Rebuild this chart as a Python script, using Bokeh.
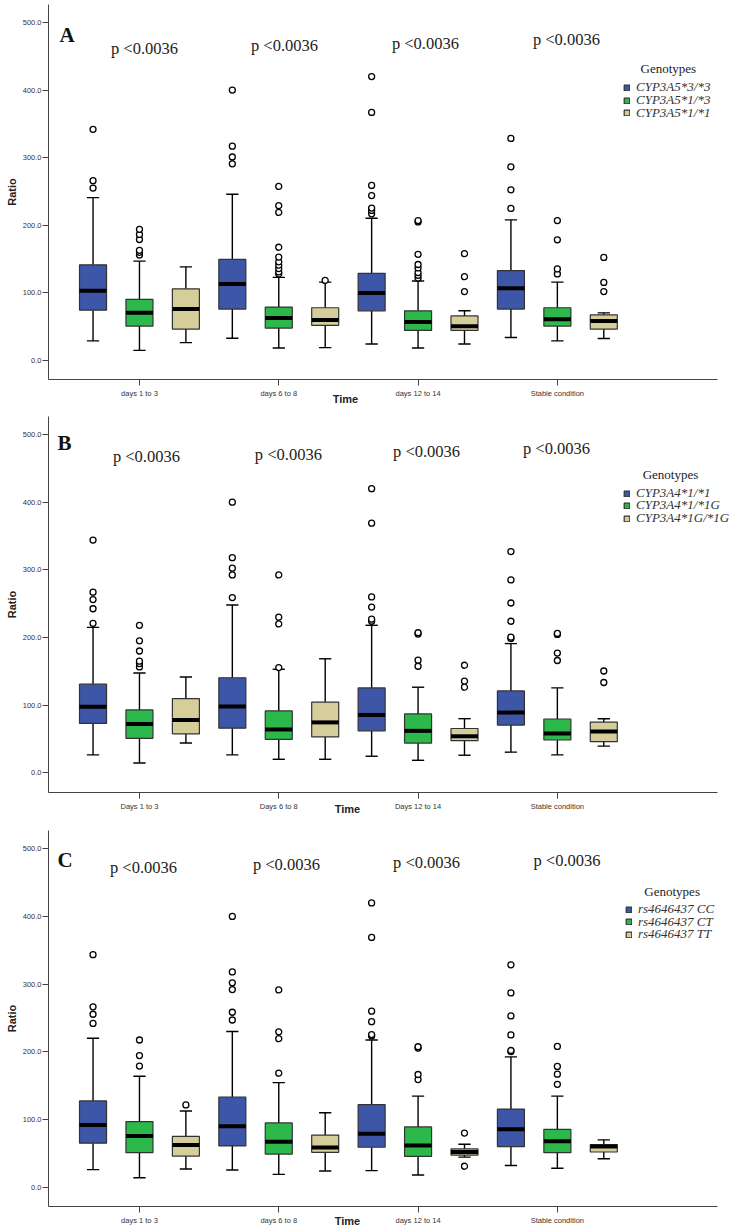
from bokeh.plotting import figure
from bokeh.models import (ColumnDataSource, FixedTicker, Legend, LegendItem, Label,
                          PrintfTickFormatter, Range1d, LinearAxis)
from bokeh.layouts import column
from bokeh.embed import file_html
from bokeh.resources import INLINE

# ---------------- data ----------------
times_A = ["days 1 to 3", "days 6 to 8", "days 12 to 14", "Stable condition"]
times_B = ["Days 1 to 3", "Days 6 to 8", "Days 12 to 14", "Stable condition"]
times_C = ["days 1 to 3", "days 6 to 8", "days 12 to 14", "Stable condition"]

genotypes_A = ["CYP3A5*3/*3", "CYP3A5*1/*3", "CYP3A5*1/*1"]
genotypes_B = ["CYP3A4*1/*1", "CYP3A4*1/*1G", "CYP3A4*1G/*1G"]
genotypes_C = ["rs4646437 CC", "rs4646437 CT", "rs4646437 TT"]

p_labels = ["p <0.0036", "p <0.0036", "p <0.0036", "p <0.0036"]

# rows = genotype, columns = time point
A_low = [[29, 33, 24.5, 34], [15, 18.5, 18.5, 29], [26.5, 19, 24.5, 32.5]]
A_q1 = [[74.5, 76, 73.5, 76], [51, 48, 44.5, 51], [46.5, 52, 44.5, 46.5]]
A_med = [[103, 113, 100, 107], [70.5, 63, 57, 61], [76, 60, 50.5, 58.5]]
A_q3 = [[141.5, 149.5, 129, 133], [90.5, 79, 73.5, 78], [106, 78, 66, 67.5]]
A_high = [[241, 246, 210.5, 208], [147, 123, 117.5, 116], [138.5, 116, 73.5, 70.5]]
A_out = [
    [[342, 266, 255], [291, 301, 317, 400], [217, 222, 225.5, 244, 259, 367, 420], [225, 252.5, 286.5, 328.5]],
    [[156, 160, 163, 179, 186.5, 194], [128, 131, 136, 141, 146, 153, 167.5, 219, 229, 257.5],
     [122, 126, 130, 137, 142, 157, 205, 207], [128, 135.5, 178.5, 207]],
    [[], [118.5], [102, 124, 158], [102, 115.5, 152.5]],
]

B_low = [[26.5, 26.5, 24.5, 30.5], [14.5, 20, 18.5, 26.5], [44, 20, 26, 39.5]]
B_q1 = [[73, 66, 62, 70.5], [51, 49.5, 44, 48.5], [57.5, 53, 47.5, 46]]
B_med = [[97.5, 98, 85.5, 89], [72, 64, 62, 58], [78, 74.5, 54, 61]]
B_q3 = [[131, 140.5, 125.5, 121], [93, 91.5, 87, 79.5], [109.5, 104.5, 65.5, 75]]
B_high = [[215, 248, 218, 191], [147.5, 153, 126.5, 125.5], [141.5, 168.5, 80, 80]]
B_out = [
    [[221, 242.5, 256, 267, 344], [259, 292.5, 302.5, 318, 400], [224, 227, 245, 260, 369, 420],
     [198.5, 200.5, 224, 251, 285, 327]],
    [[156.5, 161.5, 165, 180, 195, 218], [155.5, 220, 230, 292.5], [157.5, 166.5, 205, 207],
     [166, 177, 204.5, 206]],
    [[], [], [126.5, 135.5, 159], [133.5, 150.5]],
]

C_low = [[26, 25.5, 24.5, 32], [14, 19, 18, 28], [27, 24, 44.5, 42]]
C_q1 = [[65, 61, 59, 60], [51, 49, 45.5, 51], [46, 51.5, 47.5, 52]]
C_med = [[92, 90, 79, 85.5], [75.5, 67, 61.5, 68], [62.5, 58.5, 52, 60]]
C_q3 = [[127.5, 133, 122, 115.5], [97, 95, 89, 85.5], [75, 77, 56.5, 63]]
C_high = [[220, 230, 217.5, 192.5], [164, 154.5, 134.5, 134.5], [112.5, 110, 63.5, 70]]
C_out = [
    [[242, 255.5, 266.5, 343.5], [247, 258.5, 292, 302, 318, 400], [223.5, 225.5, 244.5, 260, 369, 420],
     [200.5, 202, 225, 253, 287, 328.5]],
    [[179, 194.5, 217.5], [168.5, 219.5, 229.5, 291.5], [159, 166.5, 205.5, 207.5], [152, 167, 178.5, 208]],
    [[121.5], [], [31, 80], []],
]

# ---------------- styling ----------------
COLORS = ["#3D56A7", "#2DB84B", "#D5CE9B"]
OFFSETS = [-1/3, 0.0, 1/3]
BOX_W = 0.194
CAP_HALF = 0.044
SERIF = "Liberation Serif"
SANS = "Liberation Sans"
X_START, X_END = -0.653, 4.286
AXIS_END = 4.149


def build_panel(letter, times, genos, low, q1, med, q3, high, outs,
                height, top, bottom, y_range, letter_pos, p_pos, geno_pos, time_x, time_standoff,
                legend_x, legend_ys):
    p = figure(width=738, height=height, output_backend="svg", toolbar_location=None,
               x_range=Range1d(X_START, X_END), y_range=Range1d(*y_range),
               min_border_left=48, min_border_right=2, min_border_top=top,
               min_border_bottom=bottom)
    p.outline_line_color = None
    p.grid.grid_line_color = None
    p.background_fill_color = "white"

    for g in range(3):
        xs = [t + OFFSETS[g] for t in range(4)]
        src = ColumnDataSource(dict(
            x=xs, xl=[x - CAP_HALF for x in xs], xr=[x + CAP_HALF for x in xs],
            bl=[x - BOX_W / 2 for x in xs], br=[x + BOX_W / 2 for x in xs],
            low=low[g], q1=q1[g], med=med[g], q3=q3[g], high=high[g]))
        p.segment("x", "low", "x", "q1", source=src, line_color="black", line_width=1.4)
        p.segment("x", "q3", "x", "high", source=src, line_color="black", line_width=1.4)
        p.segment("xl", "low", "xr", "low", source=src, line_color="black", line_width=1.4)
        p.segment("xl", "high", "xr", "high", source=src, line_color="black", line_width=1.4)
        box = p.vbar(x="x", width=BOX_W, bottom="q1", top="q3", source=src,
                     fill_color=COLORS[g], line_color="#333333", line_width=1.2)
        p.segment("bl", "med", "br", "med", source=src, line_color="black", line_width=4,
                  line_cap="butt")
        ox, oy = [], []
        for t in range(4):
            for v in outs[g][t]:
                ox.append(t + OFFSETS[g])
                oy.append(v)
        p.scatter(ox, oy, marker="circle", size=6, fill_color="white",
                  line_color="black", line_width=1.3)
        # one legend per genotype so each row sits where the reference puts it
        leg = Legend(items=[LegendItem(label=genos[g], renderers=[box])],
                     location=(legend_x, legend_ys[g]), orientation="vertical",
                     padding=0, margin=0, spacing=0, glyph_width=7, glyph_height=7,
                     label_standoff=6, label_height=10,
                     label_text_font=SERIF, label_text_font_style="italic",
                     label_text_font_size="13px", label_text_color="#333333",
                     border_line_color=None, background_fill_alpha=0)
        p.add_layout(leg)

    # axes
    p.yaxis.ticker = FixedTicker(ticks=[0, 100, 200, 300, 400, 500])
    p.yaxis.formatter = PrintfTickFormatter(format="%.1f")
    p.xaxis.ticker = FixedTicker(ticks=[0, 1, 2, 3])
    p.xaxis.major_label_overrides = {i: times[i] for i in range(4)}
    p.xaxis.bounds = (X_START, AXIS_END)
    for ax in (p.xaxis, p.yaxis):
        ax.minor_tick_line_color = None
        ax.major_tick_in = 0
        ax.major_tick_out = 6
        ax.axis_line_color = "#444444"
        ax.major_tick_line_color = "#444444"
        ax.major_label_text_font = SANS
        ax.major_label_text_font_size = "7.5px"
        ax.major_label_text_color = "#333333"
    p.xaxis.major_label_standoff = 3
    p.yaxis.major_label_standoff = 1
    p.yaxis.axis_label = "Ratio"
    p.yaxis.axis_label_standoff = 2
    p.yaxis.axis_label_text_font = SANS
    p.yaxis.axis_label_text_font_size = "11px"
    p.yaxis.axis_label_text_font_style = "bold"
    p.yaxis.axis_label_text_color = "#222222"

    # "Time" axis title, set off to the left of centre as in the reference
    tax = LinearAxis(ticker=FixedTicker(ticks=[time_x]),
                     formatter=PrintfTickFormatter(format="Time"),
                     axis_line_color=None, major_tick_line_color=None,
                     minor_tick_line_color=None, major_tick_in=0, major_tick_out=0,
                     major_label_standoff=time_standoff,
                     major_label_text_font=SANS, major_label_text_font_size="11px",
                     major_label_text_font_style="bold", major_label_text_color="#222222")
    p.add_layout(tax, "below")

    # annotations
    p.add_layout(Label(x=letter_pos[0], y=letter_pos[1], text=letter, text_font=SERIF,
                       text_font_size="21px", text_font_style="bold", text_color="#111111",
                       text_align="left", text_baseline="middle"))
    for i in range(4):
        p.add_layout(Label(x=p_pos[i][0], y=p_pos[i][1], text=p_labels[i], text_font=SERIF,
                           text_font_size="16.5px", text_color="#222222",
                           text_align="center", text_baseline="middle"))
    p.add_layout(Label(x=geno_pos[0], y=geno_pos[1], text="Genotypes", text_font=SERIF,
                       text_font_size="13px", text_color="#222222",
                       text_align="center", text_baseline="middle"))
    return p


pA = build_panel("A", times_A, genotypes_A, A_low, A_q1, A_med, A_q3, A_high, A_out,
                 height=408, top=4, bottom=29, y_range=(-28.1, 526.6),
                 letter_pos=(-0.574, 482),
                 p_pos=[(0.036, 461.5), (1.041, 466), (2.053, 469), (3.065, 475)],
                 geno_pos=(3.797, 432), time_x=1.479, time_standoff=-8,
                 legend_x=575, legend_ys=[284, 271, 258.5])

pB = build_panel("B", times_B, genotypes_B, B_low, B_q1, B_med, B_q3, B_high, B_out,
                 height=410, top=8, bottom=26, y_range=(-29.1, 526.6),
                 letter_pos=(-0.588, 486.7),
                 p_pos=[(0.05, 468), (1.069, 470), (2.061, 475), (2.994, 480)],
                 geno_pos=(3.812, 441), time_x=1.493, time_standoff=-11,
                 legend_x=575, legend_ys=[290.7, 279, 265.7])

pC = build_panel("C", times_C, genotypes_C, C_low, C_q1, C_med, C_q3, C_high, C_out,
                 height=412, top=12, bottom=24, y_range=(-28.5, 527.0),
                 letter_pos=(-0.588, 482.7),
                 p_pos=[(0.029, 472), (1.055, 477), (2.061, 480), (3.069, 482.7)],
                 geno_pos=(3.824, 437), time_x=1.493, time_standoff=-13,
                 legend_x=577, legend_ys=[288.7, 276.3, 263.7])

layout = column(pA, pB, pC, spacing=0)
open("out.html", "w").write(file_html(layout, INLINE))
